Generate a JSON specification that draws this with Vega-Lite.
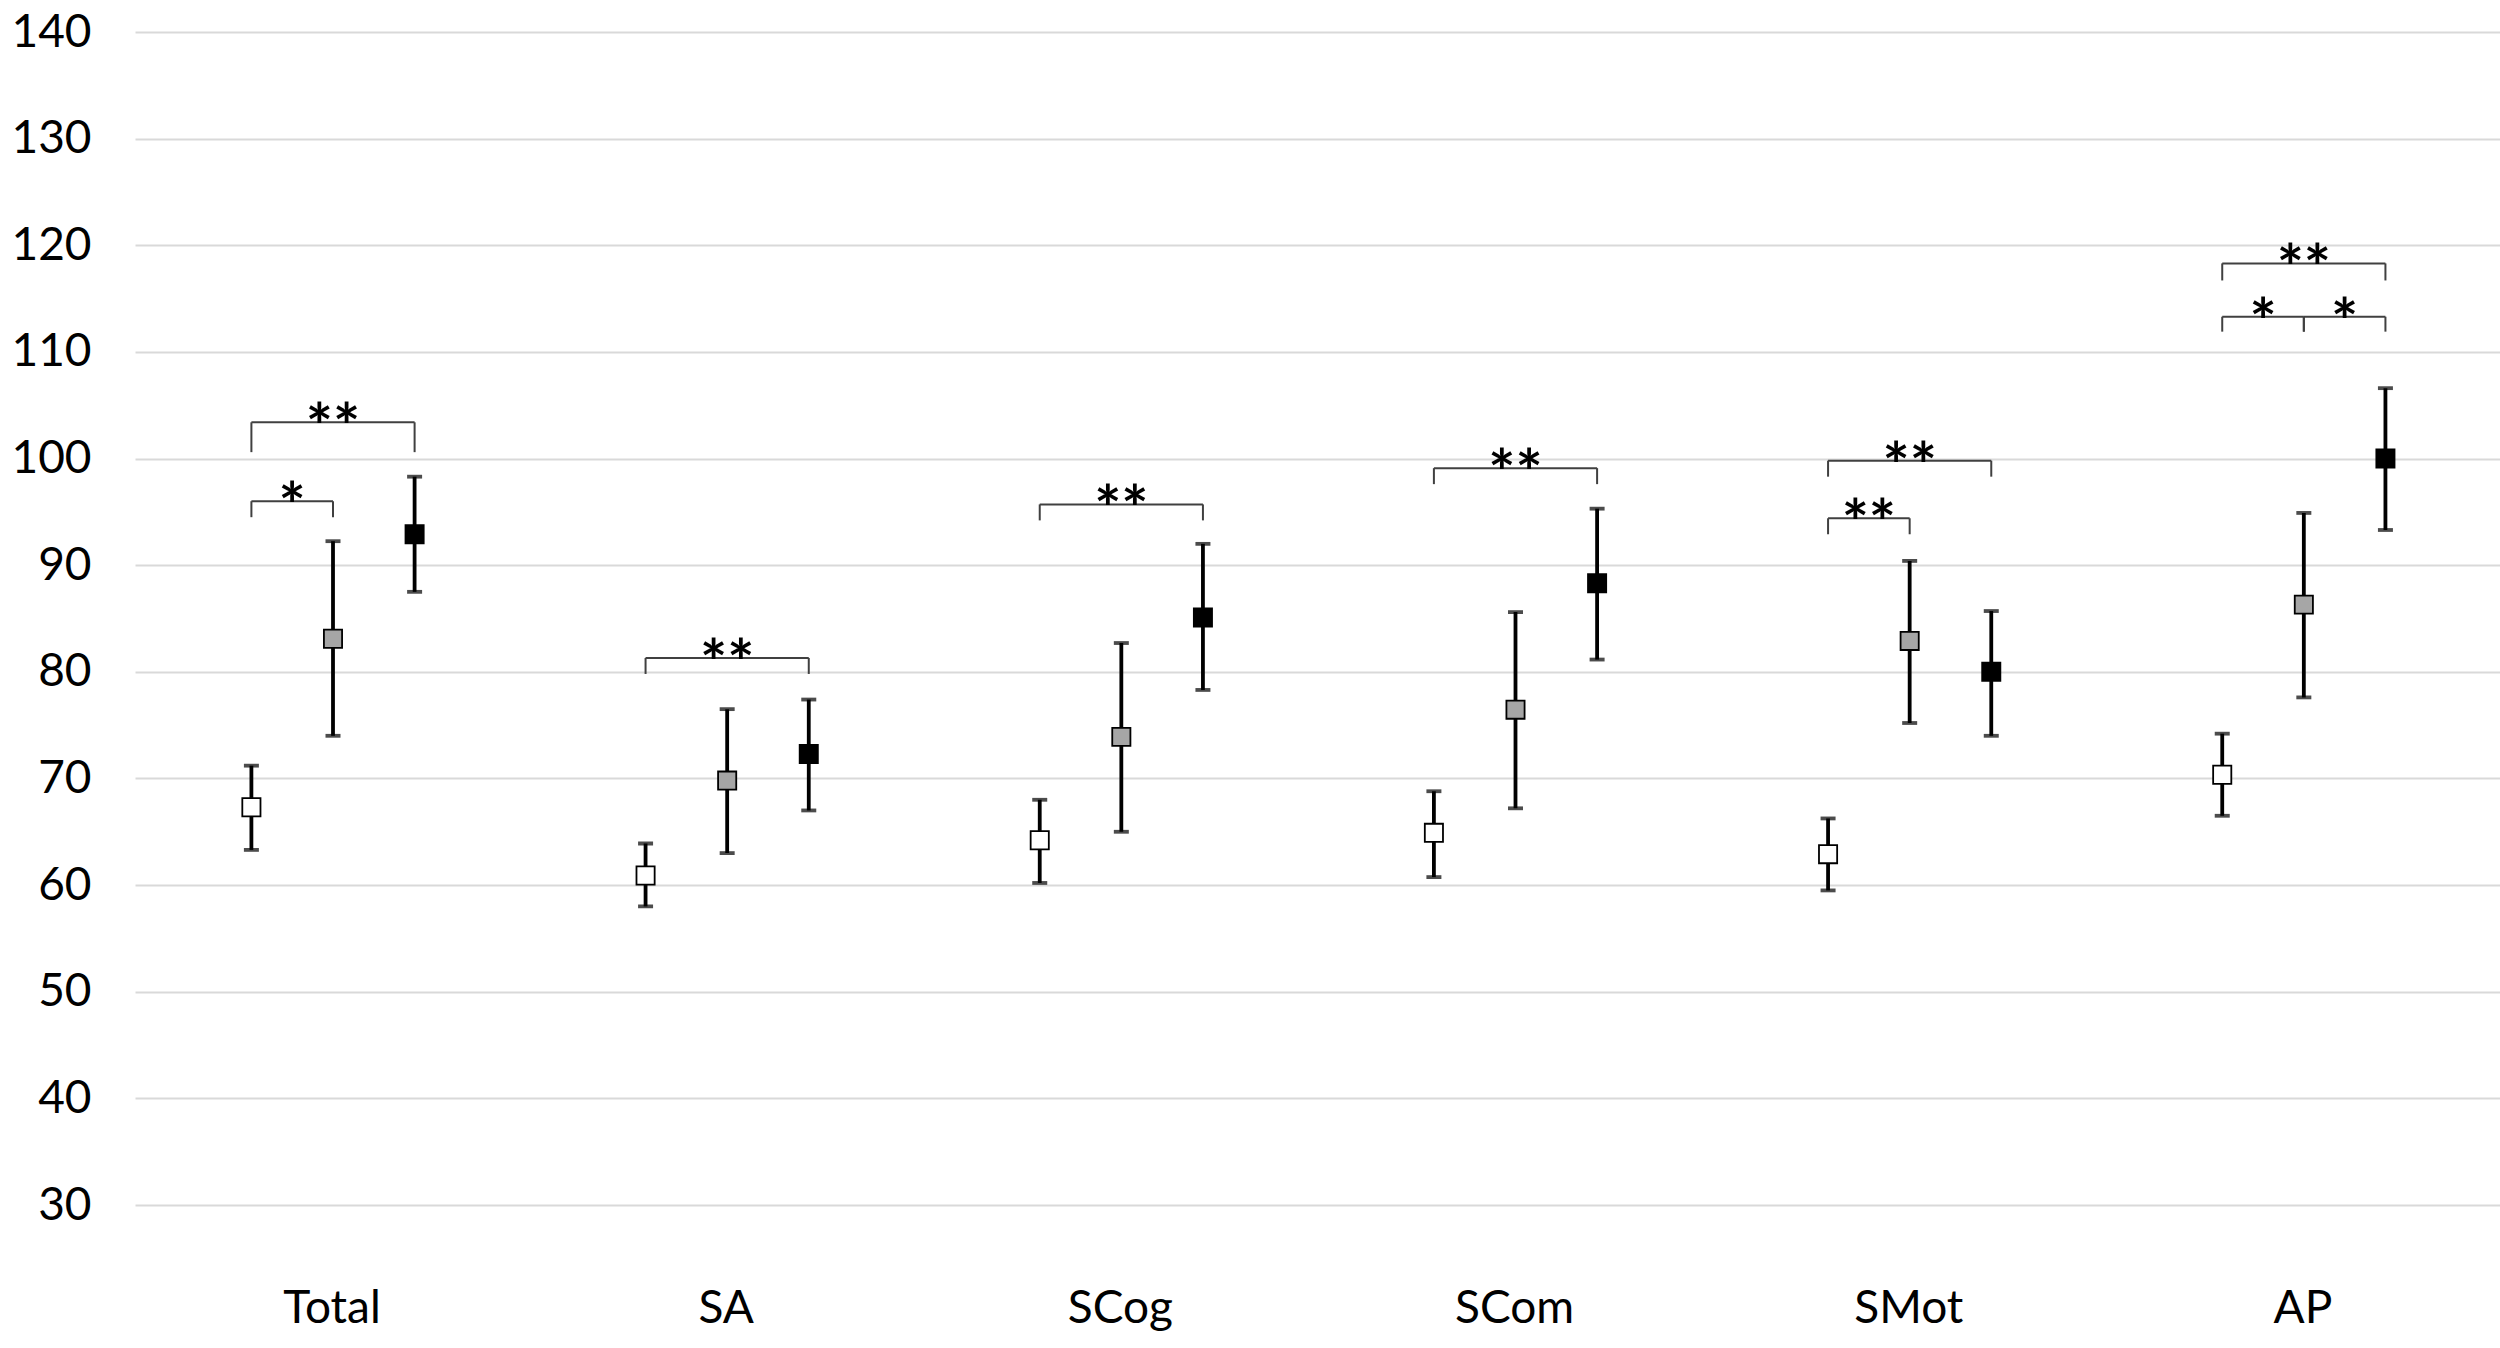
{
  "$schema": "https://vega.github.io/schema/vega-lite/v6.json",
  "autosize": {"type": "none"},
  "padding": {"left": 135, "top": 32, "right": 0, "bottom": 143},
  "width": 2365,
  "height": 1173,
  "background": "white",
  "config": {
    "view": {"stroke": null},
    "font": "Lato",
    "axis": {"labelFont": "Lato", "labelColor": "#000000", "domain": false, "ticks": false, "title": null}
  },
  "datasets": {
    "points": [
      {"measure": "Total", "group": "G1", "mean": 67.3, "low": 63.3, "high": 71.2},
      {"measure": "Total", "group": "G2", "mean": 83.1, "low": 74.0, "high": 92.25},
      {"measure": "Total", "group": "G3", "mean": 92.9, "low": 87.5, "high": 98.3},
      {"measure": "SA", "group": "G1", "mean": 60.9, "low": 58.0, "high": 63.9},
      {"measure": "SA", "group": "G2", "mean": 69.8, "low": 63.0, "high": 76.5},
      {"measure": "SA", "group": "G3", "mean": 72.3, "low": 67.0, "high": 77.4},
      {"measure": "SCog", "group": "G1", "mean": 64.2, "low": 60.2, "high": 68.0},
      {"measure": "SCog", "group": "G2", "mean": 73.9, "low": 65.0, "high": 82.7},
      {"measure": "SCog", "group": "G3", "mean": 85.1, "low": 78.3, "high": 92.0},
      {"measure": "SCom", "group": "G1", "mean": 64.9, "low": 60.75, "high": 68.8},
      {"measure": "SCom", "group": "G2", "mean": 76.45, "low": 67.2, "high": 85.6},
      {"measure": "SCom", "group": "G3", "mean": 88.3, "low": 81.15, "high": 95.3},
      {"measure": "SMot", "group": "G1", "mean": 62.9, "low": 59.5, "high": 66.25},
      {"measure": "SMot", "group": "G2", "mean": 82.9, "low": 75.2, "high": 90.4},
      {"measure": "SMot", "group": "G3", "mean": 80.0, "low": 74.0, "high": 85.7},
      {"measure": "AP", "group": "G1", "mean": 70.35, "low": 66.5, "high": 74.2},
      {"measure": "AP", "group": "G2", "mean": 86.3, "low": 77.6, "high": 94.9},
      {"measure": "AP", "group": "G3", "mean": 100.0, "low": 93.3, "high": 106.6}
    ],
    "brackets": [
      {"id": "Total-12", "measure": "Total", "from": "G1", "to": "G2", "mid": "G1-G2", "top": 96.0, "leg": 94.5, "label": "*"},
      {"id": "Total-13", "measure": "Total", "from": "G1", "to": "G3", "mid": "G2", "top": 103.4, "leg": 100.6, "label": "**"},
      {"id": "SA-13", "measure": "SA", "from": "G1", "to": "G3", "mid": "G2", "top": 81.3, "leg": 79.8, "label": "**"},
      {"id": "SCog-13", "measure": "SCog", "from": "G1", "to": "G3", "mid": "G2", "top": 95.7, "leg": 94.2, "label": "**"},
      {"id": "SCom-13", "measure": "SCom", "from": "G1", "to": "G3", "mid": "G2", "top": 99.1, "leg": 97.6, "label": "**"},
      {"id": "SMot-12", "measure": "SMot", "from": "G1", "to": "G2", "mid": "G1-G2", "top": 94.4, "leg": 92.9, "label": "**"},
      {"id": "SMot-13", "measure": "SMot", "from": "G1", "to": "G3", "mid": "G2", "top": 99.8, "leg": 98.3, "label": "**"},
      {"id": "AP-12", "measure": "AP", "from": "G1", "to": "G2", "mid": "G1-G2", "top": 113.3, "leg": 111.9, "label": "*"},
      {"id": "AP-23", "measure": "AP", "from": "G2", "to": "G3", "mid": "G2-G3", "top": 113.3, "leg": 111.9, "label": "*"},
      {"id": "AP-13", "measure": "AP", "from": "G1", "to": "G3", "mid": "G2", "top": 118.3, "leg": 116.7, "label": "**"}
    ]
  },
  "encoding": {
    "x": {
      "field": "measure", "type": "nominal",
      "sort": ["Total", "SA", "SCog", "SCom", "SMot", "AP"],
      "scale": {"domain": ["Total", "SA", "SCog", "SCom", "SMot", "AP"], "paddingInner": 0, "paddingOuter": 0},
      "axis": {"labelAngle": 0, "labelFontSize": 46, "labelPadding": 81, "grid": false}
    }
  },
  "layer": [
    {
      "data": {"name": "points"},
      "mark": {"type": "rule", "color": "#000000", "strokeWidth": 3.8},
      "encoding": {
        "xOffset": {"field": "group", "type": "nominal", "scale": {"domain": ["G1", "G1-G2", "G2", "G2-G3", "G3"], "paddingInner": 0, "paddingOuter": 0, "range": [96, 300]}},
        "y": {"field": "low", "type": "quantitative",
          "scale": {"domain": [30, 140], "nice": false, "zero": false},
          "axis": {"values": [30, 40, 50, 60, 70, 80, 90, 100, 110, 120, 130, 140], "grid": true, "gridColor": "#d9d9d9", "gridWidth": 2, "labelFontSize": 46, "labelPadding": 44}},
        "y2": {"field": "high"}
      }
    },
    {
      "data": {"name": "points"},
      "mark": {"type": "tick", "color": "#000000", "size": 15, "thickness": 3.8},
      "encoding": {
        "xOffset": {"field": "group", "type": "nominal"},
        "y": {"field": "low", "type": "quantitative"}
      }
    },
    {
      "data": {"name": "points"},
      "mark": {"type": "tick", "color": "#000000", "size": 15, "thickness": 3.8},
      "encoding": {
        "xOffset": {"field": "group", "type": "nominal"},
        "y": {"field": "high", "type": "quantitative"}
      }
    },
    {
      "data": {"name": "points"},
      "mark": {"type": "point", "shape": "square", "size": 330, "filled": true, "stroke": "#000000", "strokeWidth": 1.8, "opacity": 1},
      "encoding": {
        "xOffset": {"field": "group", "type": "nominal"},
        "y": {"field": "mean", "type": "quantitative"},
        "fill": {"field": "group", "type": "nominal", "scale": {"domain": ["G1", "G2", "G3"], "range": ["#ffffff", "#a6a6a6", "#000000"]}, "legend": null}
      }
    },
    {
      "data": {"name": "brackets"},
      "transform": [{"fold": ["from", "to"], "as": ["end", "pos"]}],
      "mark": {"type": "line", "color": "#404040", "strokeWidth": 2},
      "encoding": {
        "xOffset": {"field": "pos", "type": "nominal"},
        "y": {"field": "top", "type": "quantitative"},
        "detail": {"field": "id"},
        "order": {"field": "end"}
      }
    },
    {
      "data": {"name": "brackets"},
      "transform": [{"fold": ["from", "to"], "as": ["end", "pos"]}],
      "mark": {"type": "rule", "color": "#404040", "strokeWidth": 2},
      "encoding": {
        "xOffset": {"field": "pos", "type": "nominal"},
        "y": {"field": "leg", "type": "quantitative"},
        "y2": {"field": "top"}
      }
    },
    {
      "data": {"name": "brackets"},
      "mark": {"type": "text", "font": "Lato", "fontSize": 64, "fontWeight": "bold", "color": "#000000", "baseline": "alphabetic", "dy": 28},
      "encoding": {
        "xOffset": {"field": "mid", "type": "nominal"},
        "y": {"field": "top", "type": "quantitative"},
        "text": {"field": "label"}
      }
    }
  ]
}
